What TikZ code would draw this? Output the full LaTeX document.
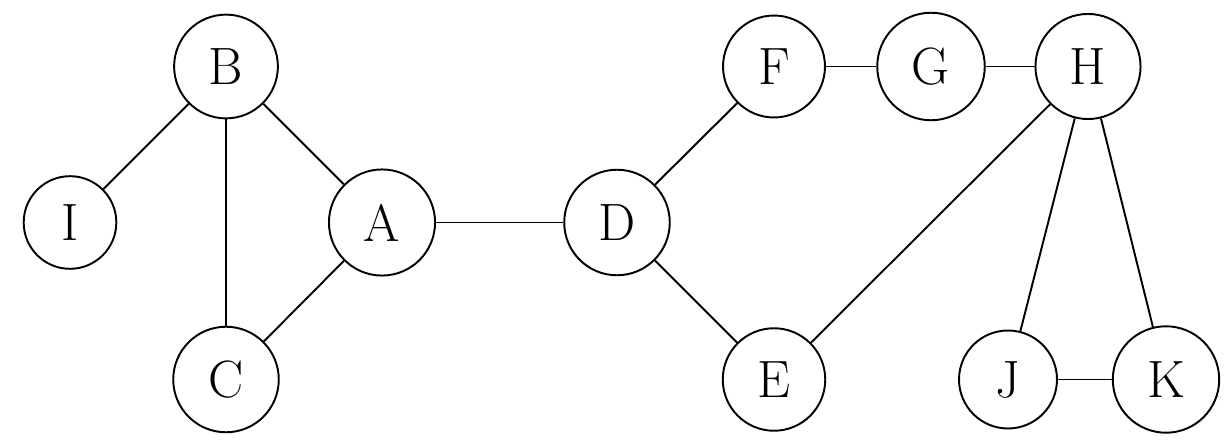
\documentclass[tikz,border=0pt]{standalone}
\begin{document}
\begin{tikzpicture}[x=0.02cm,y=-0.02cm,
  vertex/.style={circle,draw,line width=1.1pt,inner sep=10.9pt,font=\fontsize{29.9}{36}\selectfont},
  edge/.style={line width=1.1pt}]
\useasboundingbox (0,0) rectangle (1227,442);
\node[vertex] (B) at (226,66.5) {B};
\node[vertex] (I) at (70,222.5) {I};
\node[vertex] (A) at (382,222.5) {A};
\node[vertex] (C) at (226,379.5) {C};
\node[vertex] (D) at (617,222.5) {D};
\node[vertex] (F) at (774,66.5) {F};
\node[vertex] (G) at (931,66.5) {G};
\node[vertex] (H) at (1088,66.5) {H};
\node[vertex] (E) at (774,379.5) {E};
\node[vertex] (J) at (1008,379.5) {J};
\node[vertex] (K) at (1166,379.5) {K};
\draw[edge] (B) -- (I);
\draw[edge] (B) -- (C);
\draw[edge] (B) -- (A);
\draw[edge] (A) -- (C);
\draw[edge] (A) -- (D);
\draw[edge] (D) -- (F);
\draw[edge] (D) -- (E);
\draw[edge] (F) -- (G);
\draw[edge] (G) -- (H);
\draw[edge] (H) -- (E);
\draw[edge] (H) -- (J);
\draw[edge] (H) -- (K);
\draw[edge] (J) -- (K);
\end{tikzpicture}
\end{document}
